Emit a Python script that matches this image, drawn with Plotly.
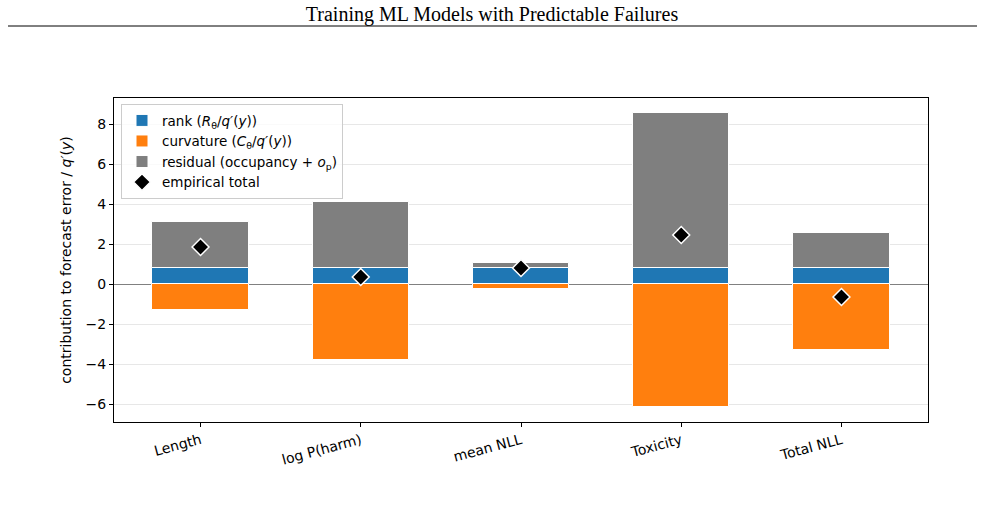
import plotly.graph_objects as go

categories = ["Length", "log P(harm)", "mean NLL", "Toxicity", "Total NLL"]
rank_vals = [0.8, 0.8, 0.8, 0.8, 0.8]
curvature_vals = [-1.3, -3.8, -0.25, -6.15, -3.3]
residual_vals = [2.3, 3.3, 0.25, 7.75, 1.75]
empirical_total = [1.85, 0.35, 0.8, 2.45, -0.65]
y_ticks = [-6, -4, -2, 0, 2, 4, 6, 8]

xpos = list(range(len(categories)))

fig = go.Figure()
edge = dict(color="white", width=1)
fig.add_trace(go.Bar(x=xpos, y=rank_vals, width=0.6, name="rank (<i>R</i><sub>θ</sub>/<i>q′</i>(<i>y</i>))",
                     marker=dict(color="#1f77b4", line=edge)))
fig.add_trace(go.Bar(x=xpos, y=curvature_vals, width=0.6, name="curvature (<i>C</i><sub>θ</sub>/<i>q′</i>(<i>y</i>))",
                     marker=dict(color="#ff7f0e", line=edge)))
fig.add_trace(go.Bar(x=xpos, y=residual_vals, width=0.6, name="residual (occupancy + <i>o</i><sub>p</sub>)",
                     marker=dict(color="#7f7f7f", line=edge)))
fig.add_trace(go.Scatter(x=xpos, y=empirical_total, mode="markers", name="empirical total",
                         marker=dict(symbol="diamond", size=13, color="black",
                                     line=dict(color="white", width=1.5))))

font = dict(family="DejaVu Sans", size=14, color="black")
fig.update_layout(
    width=984, height=506,
    margin=dict(l=114, r=56, t=98, b=84),
    barmode="relative",
    bargap=0,
    plot_bgcolor="white", paper_bgcolor="white",
    font=font,
    title=dict(text="Training ML Models with Predictable Failures",
               font=dict(family="Liberation Serif", size=20, color="black"),
               x=0.5, xanchor="center", xref="container", y=1 - 14 / 506, yanchor="middle", yref="container"),
    showlegend=True,
    legend=dict(x=0.0086, y=0.981, xanchor="left", yanchor="top",
                bgcolor="rgba(255,255,255,0.8)", bordercolor="#cccccc", borderwidth=1,
                font=dict(family="DejaVu Sans", size=13.5, color="black"),
                tracegroupgap=0, itemwidth=30),
)
fig.update_xaxes(
    range=[-0.54, 4.54], tickvals=xpos, ticktext=categories, tickangle=-15,
    tickfont=dict(family="DejaVu Sans", size=14, color="black"),
    showline=True, linecolor="black", linewidth=1, mirror=True,
    ticks="outside", ticklen=4, tickcolor="black", showgrid=False, zeroline=False,
)
fig.update_yaxes(
    range=[-6.9, 9.3], tickvals=y_ticks,
    tickfont=dict(family="DejaVu Sans", size=14, color="black"),
    showline=True, linecolor="black", linewidth=1, mirror=True,
    ticks="outside", ticklen=4, tickcolor="black",
    showgrid=True, gridcolor="rgba(176,176,176,0.3)", gridwidth=1,
    zeroline=True, zerolinecolor="#808080", zerolinewidth=1,
    layer="above traces",
    title=dict(text="contribution to forecast error / <i>q′</i>(<i>y</i>)", standoff=10,
               font=dict(family="DejaVu Sans", size=14, color="black")),
)
# rule under header
fig.add_shape(type="line", xref="paper", yref="paper",
              x0=(8 - 114) / 814, x1=(977 - 114) / 814,
              y0=(422 - 26) / 324, y1=(422 - 26) / 324,
              line=dict(color="black", width=1))

fig.write_html("out.html")
